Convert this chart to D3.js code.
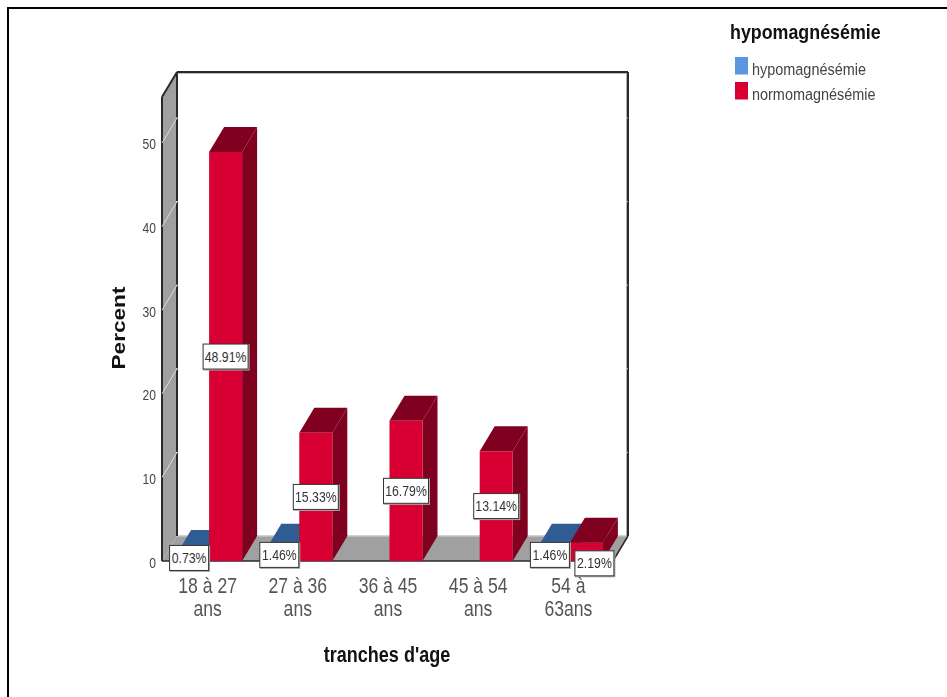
<!DOCTYPE html>
<html><head><meta charset="utf-8">
<style>html,body{margin:0;background:#fff}svg{display:block;filter:blur(0.5px)}text{font-family:"Liberation Sans",sans-serif}</style>
<script src="https://cdn.jsdelivr.net/npm/d3@7/dist/d3.min.js"></script>
</head><body><svg id="c" width="947" height="697"></svg>
<script>
const categories=[["18 à 27","ans"],["27 à 36","ans"],["36 à 45","ans"],["45 à 54","ans"],["54 à","63ans"]];
const seriesNames=["hypomagnésémie","normomagnésémie"];
const hypo=[0.73,1.46,null,null,1.46];
const normo=[48.91,15.33,16.79,13.14,2.19];
const yTicks=[0,10,20,30,40,50];
const svg=d3.select("#c");
const dx=15,dy=-25;
const y=d3.scaleLinear().domain([0,55.5]).range([561,97]);
const x=d3.scaleBand().domain(d3.range(5)).range([164,615]);
const fl=162,fr=613;
const col={blue:"#5b96e0",blueTop:"#2f5c92",red:"#d80032",redDark:"#80001f"};
const poly=(pts,fill)=>svg.append("polygon").attr("points",pts.map(p=>p.join(",")).join(" ")).attr("fill",fill);
const line=(a,b,c,w)=>svg.append("line").attr("x1",a[0]).attr("y1",a[1]).attr("x2",b[0]).attr("y2",b[1]).attr("stroke",c).attr("stroke-width",w);
// draws text condensed or stretched along its own direction
function txt(px,py,s,size,sx,o={}){
  const t=svg.append("text").attr("transform",`translate(${px},${py}) rotate(${o.rot||0}) scale(${sx},1)`)
    .attr("text-anchor",o.anchor||"middle").attr("font-size",size).attr("fill",o.fill||"#222").text(s);
  if(o.bold)t.attr("font-weight","bold");
  return t;
}
// outer frame
svg.append("path").attr("d","M8,697V8H947").attr("fill","none").attr("stroke","#000").attr("stroke-width",2);
// walls
const yT=y(55.5),yB=y(0);
poly([[fl,yB],[fl+dx,yB+dy],[fl+dx,yT+dy],[fl,yT]],"#a0a0a0");
poly([[fl,yB],[fl+dx,yB+dy],[fr+dx,yB+dy],[fr,yB]],"#a0a0a0");
line([fl+dx,yB+dy],[fr+dx,yB+dy],"#c4c4c4",1.5);
line([fr+dx-1.5,yT+dy],[fr+dx-1.5,yB+dy],"#b0b0b0",1);
line([fl+dx+1.5,yT+dy+1.5],[fr+dx-1,yT+dy+1.5],"#bbb",1);
line([fl,yB],[fl,yT],"#2a2a2a",2);
line([fl,yT],[fl+dx,yT+dy],"#2a2a2a",2);
line([fl+dx,yT+dy],[fl+dx,yB+dy],"#2a2a2a",2);
line([fl+dx,yT+dy],[fr+dx,yT+dy],"#2a2a2a",2);
line([fr+dx,yT+dy],[fr+dx,yB+dy],"#2a2a2a",2);
line([fr+dx,yB+dy],[fr,yB],"#2a2a2a",1.5);
line([fl,yB],[fr,yB],"#2a2a2a",1.5);
// gridlines cross the side wall and notch the back-wall borders
yTicks.slice(1).forEach(t=>{
  line([fl,y(t)],[fl+dx,y(t)+dy],"#dcdcdc",1);
  line([fl+dx-1,y(t)+dy],[fl+dx+1,y(t)+dy],"#dcdcdc",1);
  line([fr+dx-2,y(t)+dy],[fr+dx,y(t)+dy],"#c8c8c8",1);
});
// bars
const bw=33;
function bar(x0,v,front,top,side){
  const x1=x0+bw,t=y(v),b=y(0);
  poly([[x0,t],[x0+dx,t+dy],[x1+dx,t+dy],[x1,t]],top);
  poly([[x1,t],[x1+dx,t+dy],[x1+dx,b+dy],[x1,b]],side);
  poly([[x0,t],[x1,t],[x1,b],[x0,b]],front);
}
const centers=i=>x(i)+x.bandwidth()/2;
categories.forEach((c,i)=>{
  const mid=centers(i);
  if(hypo[i]!=null) bar(mid-bw,hypo[i],col.blue,col.blueTop,col.blueTop);
  bar(mid,normo[i],col.red,col.redDark,col.redDark);
});
// value labels
function label(cx,cy,v){
  const s=v.toFixed(2)+"%",w=v>=10?45:39,h=25;
  svg.append("rect").attr("x",cx-w/2).attr("y",cy-h/2).attr("width",w+1.5).attr("height",h+1.5).attr("fill","#aaa");
  svg.append("rect").attr("x",cx-w/2).attr("y",cy-h/2).attr("width",w).attr("height",h).attr("fill","#fff").attr("stroke","#333").attr("stroke-width",1);
  txt(cx,cy+5,s,15,0.82,{fill:"#333"});
}
const lab=(i,v,ox,oy)=>label(centers(i)+ox,y(v/2)+oy,v);
lab(0,hypo[0],-20,0); lab(1,hypo[1],-20,0); lab(4,hypo[4],-20,0);
normo.slice(0,4).forEach((v,i)=>lab(i,v,16.5,0));
lab(4,normo[4],24.5,11.5);
// axis
yTicks.forEach(t=>txt(156,y(t)+6.5,t,15.5,0.78,{anchor:"end",fill:"#444"}));
categories.forEach((c,i)=>c.forEach((s,k)=>txt(centers(i)-1.5,592.5+k*23,s,22,0.8,{fill:"#555"})));
txt(125,328,"Percent",19,1.19,{bold:true,rot:-90,fill:"#111"});
txt(387,662,"tranches d'age",22,0.82,{bold:true,fill:"#111"});
// legend
txt(730,39,"hypomagnésémie",21,0.85,{bold:true,anchor:"start",fill:"#111"});
seriesNames.forEach((s,i)=>{
  svg.append("rect").attr("x",735).attr("y",57+i*25).attr("width",13).attr("height",17.5).attr("fill",i?col.red:col.blue);
  txt(752,75+i*24.5,s,17,0.85,{anchor:"start",fill:"#444"});
});
</script></body></html>
